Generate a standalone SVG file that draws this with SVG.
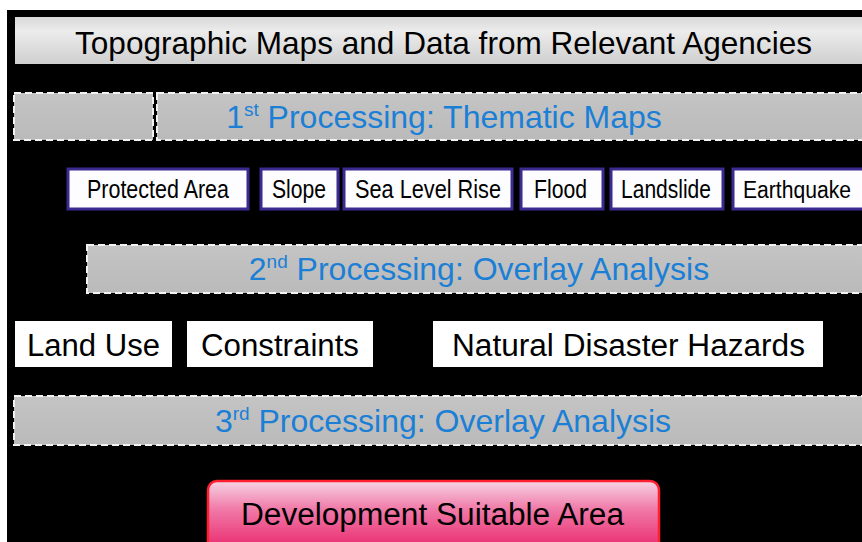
<svg xmlns="http://www.w3.org/2000/svg" width="862" height="542" viewBox="0 0 862 542">
  <defs>
    <linearGradient id="gTitle" x1="0" y1="0" x2="0" y2="1">
      <stop offset="0" stop-color="#d8d8d8"/>
      <stop offset="0.3" stop-color="#ececec"/>
      <stop offset="1" stop-color="#cfcfcf"/>
    </linearGradient>
    <linearGradient id="gBand" x1="0" y1="0" x2="0" y2="1">
      <stop offset="0" stop-color="#c4c4c4"/>
      <stop offset="1" stop-color="#bababa"/>
    </linearGradient>
    <linearGradient id="gResult" x1="0" y1="0" x2="0" y2="1">
      <stop offset="0" stop-color="#f6d4e4"/>
      <stop offset="0.35" stop-color="#f07aa8"/>
      <stop offset="1" stop-color="#e8125c"/>
    </linearGradient>
  </defs>
  <style>
    .band { fill: url(#gBand); stroke: #f2f2f2; stroke-width: 2; stroke-dasharray: 7 4; }
    .theme { fill: #fdfdff; stroke: #3a2b90; stroke-width: 3; }
    .layer { fill: #ffffff; }
    .lbl { font-family: "Liberation Sans", Arial, sans-serif; fill: #000000; }
    .proc { font-family: "Liberation Sans", Arial, sans-serif; fill: #1b7fd6; font-size: 32px; text-anchor: middle; }
    .sup { font-size: 19px; }
  </style>

  <!-- page -->
  <rect x="0" y="0" width="862" height="542" fill="#ffffff"/>
  <rect x="7" y="10" width="855" height="532" fill="#000000"/>

  <g id="connectors"/>

  <!-- source data -->
  <g id="source">
    <rect x="15" y="17" width="847" height="47" fill="url(#gTitle)"/>
    <text class="lbl" x="75" y="54" font-size="32" textLength="737" lengthAdjust="spacingAndGlyphs">Topographic Maps and Data from Relevant Agencies</text>
  </g>

  <!-- first processing stage -->
  <g id="processing1">
    <rect class="band" x="14" y="93" width="139" height="47"/>
    <rect class="band" x="157" y="93" width="710" height="47"/>
    <text class="proc" x="444" y="128"><tspan>1</tspan><tspan class="sup" dy="-12">st</tspan><tspan dy="12"> Processing: Thematic Maps</tspan></text>
  </g>

  <!-- thematic maps -->
  <g id="protected-area">
    <rect class="theme" x="68" y="169" width="180" height="40"/>
    <text class="lbl" x="87" y="198" font-size="25" textLength="142" lengthAdjust="spacingAndGlyphs">Protected Area</text>
  </g>
  <g id="slope">
    <rect class="theme" x="261" y="169" width="77" height="40"/>
    <text class="lbl" x="272" y="198" font-size="25" textLength="54" lengthAdjust="spacingAndGlyphs">Slope</text>
  </g>
  <g id="sea-level-rise">
    <rect class="theme" x="344" y="169" width="168" height="40"/>
    <text class="lbl" x="355" y="198" font-size="25" textLength="146" lengthAdjust="spacingAndGlyphs">Sea Level Rise</text>
  </g>
  <g id="flood">
    <rect class="theme" x="521" y="169" width="82" height="40"/>
    <text class="lbl" x="534" y="198" font-size="25" textLength="53" lengthAdjust="spacingAndGlyphs">Flood</text>
  </g>
  <g id="landslide">
    <rect class="theme" x="611" y="169" width="112" height="40"/>
    <text class="lbl" x="621" y="198" font-size="25" textLength="90" lengthAdjust="spacingAndGlyphs">Landslide</text>
  </g>
  <g id="earthquake">
    <rect class="theme" x="733" y="169" width="132" height="40"/>
    <text class="lbl" x="743" y="198" font-size="23" textLength="108" lengthAdjust="spacingAndGlyphs">Earthquake</text>
  </g>

  <!-- second processing stage -->
  <g id="processing2">
    <rect class="band" x="87" y="245" width="780" height="48"/>
    <text class="proc" x="479" y="280"><tspan>2</tspan><tspan class="sup" dy="-12">nd</tspan><tspan dy="12"> Processing: Overlay Analysis</tspan></text>
  </g>

  <!-- overlay layers -->
  <g id="land-use">
    <rect class="layer" x="15" y="321" width="157" height="46"/>
    <text class="lbl" x="27" y="356" font-size="31" textLength="133" lengthAdjust="spacingAndGlyphs">Land Use</text>
  </g>
  <g id="constraints">
    <rect class="layer" x="187" y="321" width="186" height="46"/>
    <text class="lbl" x="201" y="356" font-size="31" textLength="158" lengthAdjust="spacingAndGlyphs">Constraints</text>
  </g>
  <g id="natural-disaster-hazards">
    <rect class="layer" x="433" y="321" width="390" height="46"/>
    <text class="lbl" x="452" y="356" font-size="31" textLength="353" lengthAdjust="spacingAndGlyphs">Natural Disaster Hazards</text>
  </g>

  <!-- third processing stage -->
  <g id="processing3">
    <rect class="band" x="14" y="396" width="853" height="49"/>
    <text class="proc" x="443" y="432"><tspan>3</tspan><tspan class="sup" dy="-12">rd</tspan><tspan dy="12"> Processing: Overlay Analysis</tspan></text>
  </g>

  <!-- result -->
  <g id="suitable-area">
    <rect x="208" y="481" width="451" height="80" rx="9" fill="url(#gResult)" stroke="#ff1f2e" stroke-width="2.5"/>
    <text class="lbl" x="241" y="525" font-size="31" textLength="383" lengthAdjust="spacingAndGlyphs">Development Suitable Area</text>
  </g>
</svg>
